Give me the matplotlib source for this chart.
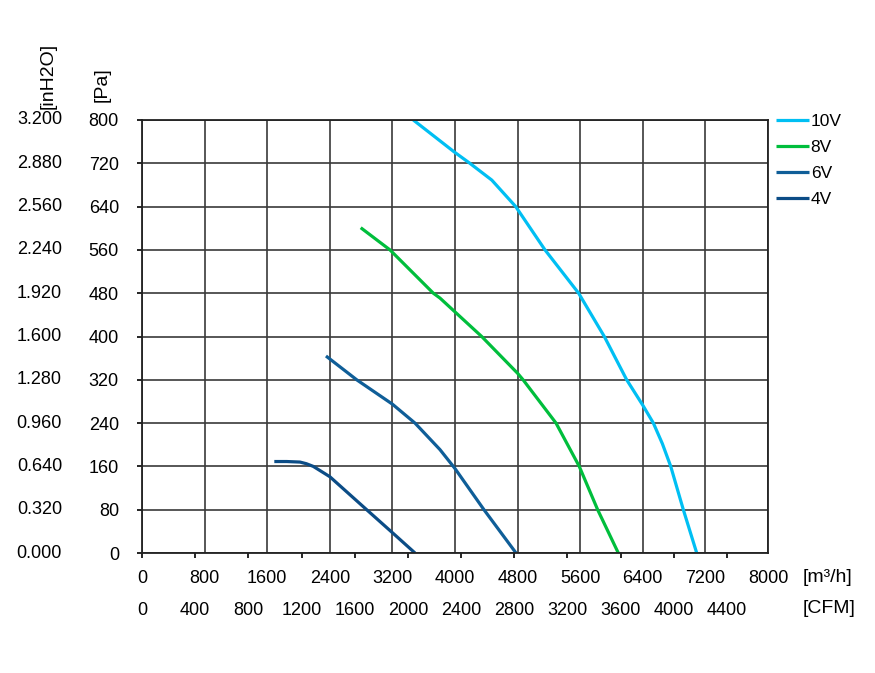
import matplotlib
matplotlib.use("Agg")
import matplotlib.pyplot as plt

plt.rcParams['font.family'] = ['Liberation Sans', 'DejaVu Sans']

# air flow [m3/h] and static pressure [Pa]
flow_10v = [3467, 3990, 4190, 4470, 4776, 5150, 5580, 5908, 6194, 6400, 6535, 6650, 6757, 6918, 7089]
pa_10v = [800, 741, 720, 689, 640, 560, 480, 400, 320, 273, 240, 202, 160, 80, 0]

flow_8v = [2795, 3169, 3723, 3808, 4341, 4800, 4870, 5291, 5588, 5823, 6087]
pa_8v = [601, 560, 480, 471, 400, 332, 320, 240, 160, 80, 0]

flow_6v = [2351, 2744, 3200, 3489, 3808, 4000, 4370, 4780]
pa_6v = [364, 320, 275, 240, 191, 156, 80, 0]

flow_4v = [1691, 1850, 2019, 2100, 2189, 2400, 2871, 3212, 3489]
pa_4v = [169, 169, 168, 165, 160, 141, 80, 36, 0]

x_ticks = [0, 800, 1600, 2400, 3200, 4000, 4800, 5600, 6400, 7200, 8000]
pa_ticks = [0, 80, 160, 240, 320, 400, 480, 560, 640, 720, 800]
inh2o_labels = ["0.000", "0.320", "0.640", "0.960", "1.280", "1.600",
                "1.920", "2.240", "2.560", "2.880", "3.200"]
cfm_ticks = [0, 400, 800, 1200, 1600, 2000, 2400, 2800, 3200, 3600, 4000, 4400]
M3H_PER_CFM = 1.699

fig = plt.figure(figsize=(8.75, 6.73), dpi=100)
ax = fig.add_axes([142/875, 1-553/673, 626/875, 433/673])

ax.plot(flow_10v, pa_10v, color="#00BFF3", lw=2.3, label="10V", solid_capstyle="butt")
ax.plot(flow_8v, pa_8v, color="#00BE3C", lw=2.3, label="8V", solid_capstyle="butt")
ax.plot(flow_6v, pa_6v, color="#0F5E98", lw=2.3, label="6V", solid_capstyle="butt")
ax.plot(flow_4v, pa_4v, color="#0B4C86", lw=2.3, label="4V", solid_capstyle="butt")

ax.set_xlim(0, 8000)
ax.set_ylim(0, 800)
ax.set_xticks(x_ticks)
ax.set_yticks(pa_ticks)
ax.grid(True, color="#3a3a3a", lw=1.2)
ax.set_axisbelow(True)
for s in ax.spines.values():
    s.set_color("#222222")
    s.set_linewidth(1.3)

ax.tick_params(axis="x", length=0, pad=12.5, labelsize=13)
ax.tick_params(axis="y", length=3.6, width=1.2, direction="out", pad=13, labelsize=13)

# second flow scale in CFM
sec = ax.secondary_xaxis("bottom", functions=(lambda x: x / M3H_PER_CFM, lambda c: c * M3H_PER_CFM))
sec.set_xticks(cfm_ticks)
sec.tick_params(length=3.6, width=1.2, direction="out", pad=32, labelsize=13)
sec.spines["bottom"].set_visible(False)

# inH2O labels on the far left
for v, lab in zip(pa_ticks, inh2o_labels):
    ax.text(-80 / 626, v, lab, transform=ax.get_yaxis_transform(),
            ha="right", va="center", fontsize=13)

fig.text(48/875, 1-76/673, "[inH2O]", rotation=90, ha="center", va="center", fontsize=14)
fig.text(102.5/875, 1-85/673, "[Pa]", rotation=90, ha="center", va="center", fontsize=14)
fig.text(803/875, 1-577/673, "[m³/h]", ha="left", va="center", fontsize=14)
fig.text(803/875, 1-608.5/673, "[CFM]", ha="left", va="center", fontsize=14)

ax.legend(loc="upper left", bbox_to_anchor=(776/875, 1-114/673), bbox_transform=fig.transFigure,
          frameon=False, fontsize=12.5, handlelength=1.9, handletextpad=0.1,
          labelspacing=0.62, borderpad=0, borderaxespad=0)

fig.savefig("out.png", dpi=100)
